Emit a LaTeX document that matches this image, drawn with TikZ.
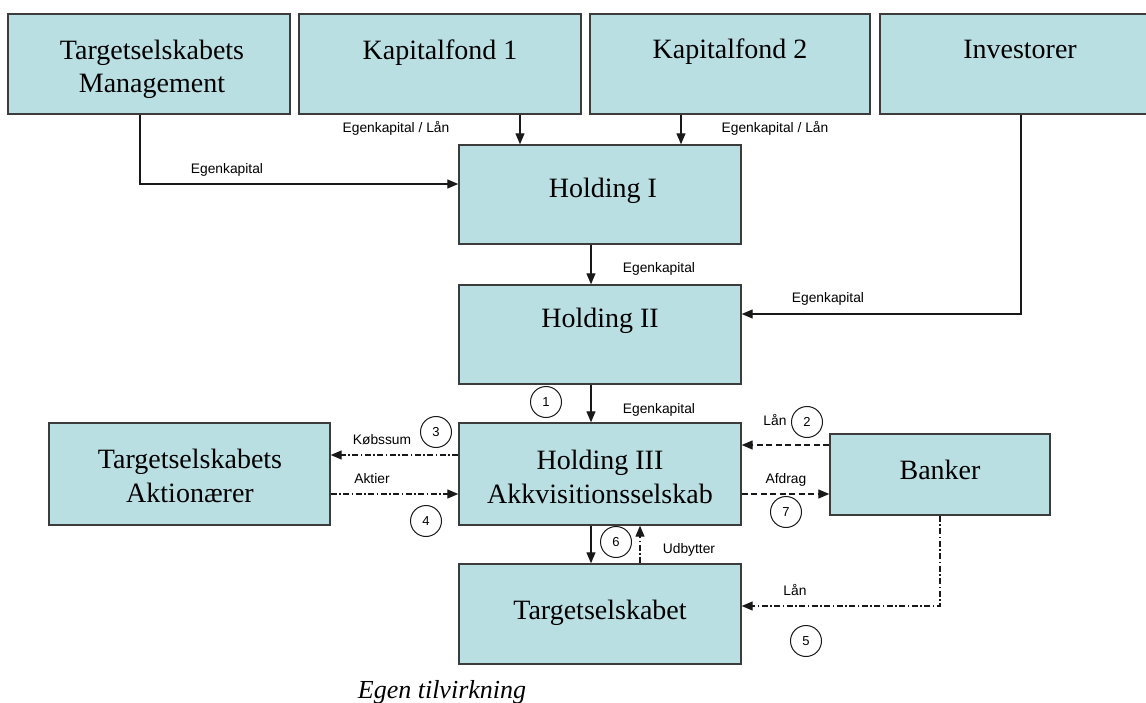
\documentclass[tikz,border=0pt]{standalone}
\usepackage{fontspec}
\setmainfont{Liberation Serif}
\newfontfamily\labelsans{Liberation Sans}
\usetikzlibrary{arrows.meta}
\definecolor{boxfill}{RGB}{185,223,227}
\definecolor{boxedge}{RGB}{60,60,60}
\definecolor{wire}{RGB}{25,25,25}

\begin{document}
\begin{tikzpicture}[x=1pt,y=-1pt,
  box/.style={rectangle, draw=boxedge, line width=1.4pt, fill=boxfill, inner sep=0pt},
  boxtxt/.style={anchor=base, inner sep=0pt, font=\fontsize{28}{33}\selectfont},
  lbl/.style={inner sep=0pt, font=\labelsans\fontsize{13.8}{16}\selectfont},
  num/.style={circle, draw=wire, line width=1pt, minimum size=31pt, inner sep=0pt,
              font=\labelsans\fontsize{13}{15}\selectfont},
  arr/.style={draw=wire, line width=1.2pt, -{Triangle[length=11pt,width=9pt]}},
  dashd/.style={dash pattern=on 6pt off 3.5pt},
  dashdot/.style={dash pattern=on 6pt off 2.5pt on 1.5pt off 2.5pt},
]
\fill[white] (0,0) rectangle (1146,703);
\useasboundingbox (0,0) rectangle (1146,703);
\clip (0,0) rectangle (1146,703);

% boxes
\node[box, minimum width=282pt, minimum height=100pt] (mgmt) at (149,64) {};
\node[box, minimum width=282pt, minimum height=100pt] (kf1)  at (440,64) {};
\node[box, minimum width=280pt, minimum height=100pt] (kf2)  at (730,64) {};
\node[box, minimum width=280pt, minimum height=100pt] (inv)  at (1020,64) {};
\node[box, minimum width=282pt, minimum height=99pt]  (h1)   at (600,194.5) {};
\node[box, minimum width=282pt, minimum height=99pt]  (h2)   at (600,334.5) {};
\node[box, minimum width=282pt, minimum height=102pt] (h3)   at (600,474) {};
\node[box, minimum width=281pt, minimum height=102pt] (akt)  at (189.5,474) {};
\node[box, minimum width=220pt, minimum height=81pt]  (bank) at (940,474.5) {};
\node[box, minimum width=282pt, minimum height=100pt] (tgt)  at (600,614) {};

% box texts
\node[boxtxt] (mgmt-a) at (152,60) {Targetselskabets};
\node[boxtxt] (mgmt-b) at (152,93) {Management};
\node[boxtxt] (kf1-a)  at (440,60) {Kapitalfond 1};
\node[boxtxt] (kf2-a)  at (730,59) {Kapitalfond 2};
\node[boxtxt] (inv-a)  at (1020,59) {Investorer};
\node[boxtxt] (h1-a)   at (603,198) {Holding I};
\node[boxtxt] (h2-a)   at (600,328) {Holding II};
\node[boxtxt] (h3-a)   at (600,469) {Holding III};
\node[boxtxt] (h3-b)   at (600,503) {Akkvisitionsselskab};
\node[boxtxt] (akt-a)  at (190,468) {Targetselskabets};
\node[boxtxt] (akt-b)  at (190,502) {Aktionærer};
\node[boxtxt] (bank-a) at (940,479) {Banker};
\node[boxtxt] (tgt-a)  at (600,619) {Targetselskabet};

% capital flows
\draw[arr] ([xshift=-9pt]mgmt.south) |- ([yshift=10.5pt]h1.west);
\draw[arr] ([xshift=80pt]kf1.south) -- ([xshift=-80pt]h1.north);
\draw[arr] ([xshift=-49pt]kf2.south) -- ([xshift=81pt]h1.north);
\draw[arr] ([xshift=-9pt]h1.south) -- ([xshift=-9pt]h2.north);
\draw[arr] ([xshift=1pt]inv.south) |- ([yshift=20.5pt]h2.east);
\draw[arr] ([xshift=-9pt]h2.south) -- ([xshift=-9pt]h3.north);
\draw[arr] ([xshift=-9pt]h3.south) -- ([xshift=-9pt]tgt.north);
\draw[arr,dashdot] ([xshift=40pt]tgt.north) -- ([xshift=40pt]h3.south);
\draw[arr,dashdot] ([yshift=19pt]h3.west) -- ([yshift=19pt]akt.east);
\draw[arr,dashdot] ([yshift=-20pt]akt.east) -- ([yshift=-20pt]h3.west);
\draw[arr,dashd] ([yshift=29.5pt]bank.west) -- ([yshift=29pt]h3.east);
\draw[arr,dashd] ([yshift=-20pt]h3.east) -- ([yshift=-19.5pt]bank.west);
\draw[arr,dashdot] (bank.south) |- ([yshift=8pt]tgt.east);

% flow labels
\node[lbl] (l-mgmt) at (227,170) {Egenkapital};
\node[lbl] (l-kf1)  at (396,128) {Egenkapital / Lån};
\node[lbl] (l-kf2)  at (775,128) {Egenkapital / Lån};
\node[lbl] (l-h12)  at (659,269) {Egenkapital};
\node[lbl] (l-inv)  at (828,299) {Egenkapital};
\node[lbl] (l-h23)  at (659,410) {Egenkapital};
\node[lbl] (l-kob)  at (382,440) {Købssum};
\node[lbl] (l-akt)  at (372,479) {Aktier};
\node[lbl] (l-lan1) at (775,420) {Lån};
\node[lbl] (l-afd)  at (786,480) {Afdrag};
\node[lbl] (l-udb)  at (689,550) {Udbytter};
\node[lbl] (l-lan2) at (795,590) {Lån};

% step numbers
\node[num] (n1) at (546,402) {1};
\node[num] (n2) at (807,422) {2};
\node[num] (n3) at (436,432) {3};
\node[num] (n4) at (426,521) {4};
\node[num] (n5) at (806,641) {5};
\node[num] (n6) at (616,542) {6};
\node[num] (n7) at (786,512) {7};

% source note
\node[anchor=base, inner sep=0pt, font=\itshape\fontsize{26}{30}\selectfont] (src) at (442,698) {Egen tilvirkning};
\end{tikzpicture}
\end{document}
